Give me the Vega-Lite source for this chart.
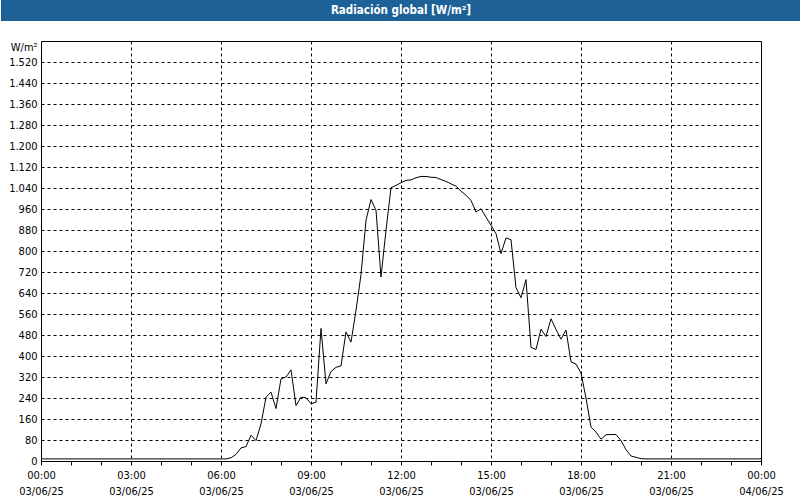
{
  "$schema": "https://vega.github.io/schema/vega-lite/v6.json",
  "background": "#ffffff",
  "padding": 0,
  "spacing": 19,
  "config": {
    "font": "DejaVu Sans Condensed",
    "view": {"stroke": "#000000"}
  },
  "datasets": {
    "rad": [
      {"min": 0, "wm2": 8}, {"min": 10, "wm2": 8}, {"min": 20, "wm2": 8}, {"min": 30, "wm2": 8}, {"min": 40, "wm2": 8}, {"min": 50, "wm2": 8},
      {"min": 60, "wm2": 8}, {"min": 70, "wm2": 8}, {"min": 80, "wm2": 8}, {"min": 90, "wm2": 8}, {"min": 100, "wm2": 8}, {"min": 110, "wm2": 8},
      {"min": 120, "wm2": 8}, {"min": 130, "wm2": 8}, {"min": 140, "wm2": 8}, {"min": 150, "wm2": 8}, {"min": 160, "wm2": 8}, {"min": 170, "wm2": 8},
      {"min": 180, "wm2": 8}, {"min": 190, "wm2": 8}, {"min": 200, "wm2": 8}, {"min": 210, "wm2": 8}, {"min": 220, "wm2": 8}, {"min": 230, "wm2": 8},
      {"min": 240, "wm2": 8}, {"min": 250, "wm2": 8}, {"min": 260, "wm2": 8}, {"min": 270, "wm2": 8}, {"min": 280, "wm2": 8}, {"min": 290, "wm2": 8},
      {"min": 300, "wm2": 8}, {"min": 310, "wm2": 8}, {"min": 320, "wm2": 8}, {"min": 330, "wm2": 8}, {"min": 340, "wm2": 8}, {"min": 350, "wm2": 8},
      {"min": 360, "wm2": 8}, {"min": 370, "wm2": 8}, {"min": 380, "wm2": 12}, {"min": 390, "wm2": 25}, {"min": 400, "wm2": 50}, {"min": 410, "wm2": 55},
      {"min": 420, "wm2": 98}, {"min": 430, "wm2": 78}, {"min": 440, "wm2": 141}, {"min": 450, "wm2": 243}, {"min": 460, "wm2": 262}, {"min": 470, "wm2": 200},
      {"min": 480, "wm2": 313}, {"min": 490, "wm2": 320}, {"min": 500, "wm2": 347}, {"min": 510, "wm2": 211}, {"min": 520, "wm2": 243}, {"min": 530, "wm2": 241},
      {"min": 540, "wm2": 218}, {"min": 550, "wm2": 224}, {"min": 560, "wm2": 505}, {"min": 570, "wm2": 294}, {"min": 580, "wm2": 341}, {"min": 590, "wm2": 357},
      {"min": 600, "wm2": 362}, {"min": 610, "wm2": 492}, {"min": 620, "wm2": 453}, {"min": 630, "wm2": 574}, {"min": 640, "wm2": 710}, {"min": 650, "wm2": 917},
      {"min": 660, "wm2": 996}, {"min": 670, "wm2": 955}, {"min": 680, "wm2": 701}, {"min": 690, "wm2": 879}, {"min": 700, "wm2": 1041}, {"min": 710, "wm2": 1050},
      {"min": 720, "wm2": 1060}, {"min": 730, "wm2": 1069}, {"min": 740, "wm2": 1071}, {"min": 750, "wm2": 1079}, {"min": 760, "wm2": 1084}, {"min": 770, "wm2": 1084},
      {"min": 780, "wm2": 1081}, {"min": 790, "wm2": 1080}, {"min": 800, "wm2": 1072}, {"min": 810, "wm2": 1065}, {"min": 820, "wm2": 1056}, {"min": 830, "wm2": 1047},
      {"min": 840, "wm2": 1028}, {"min": 850, "wm2": 1012}, {"min": 860, "wm2": 993}, {"min": 870, "wm2": 948}, {"min": 880, "wm2": 961}, {"min": 890, "wm2": 929},
      {"min": 900, "wm2": 898}, {"min": 910, "wm2": 866}, {"min": 920, "wm2": 790}, {"min": 930, "wm2": 850}, {"min": 940, "wm2": 843}, {"min": 950, "wm2": 660},
      {"min": 960, "wm2": 622}, {"min": 970, "wm2": 691}, {"min": 980, "wm2": 433}, {"min": 990, "wm2": 425}, {"min": 1000, "wm2": 502}, {"min": 1010, "wm2": 474},
      {"min": 1020, "wm2": 542}, {"min": 1030, "wm2": 501}, {"min": 1040, "wm2": 464}, {"min": 1050, "wm2": 499}, {"min": 1060, "wm2": 378}, {"min": 1070, "wm2": 369},
      {"min": 1080, "wm2": 335}, {"min": 1090, "wm2": 240}, {"min": 1100, "wm2": 129}, {"min": 1110, "wm2": 110}, {"min": 1120, "wm2": 83}, {"min": 1130, "wm2": 100},
      {"min": 1140, "wm2": 101}, {"min": 1150, "wm2": 101}, {"min": 1160, "wm2": 78}, {"min": 1170, "wm2": 43}, {"min": 1180, "wm2": 19}, {"min": 1190, "wm2": 14},
      {"min": 1200, "wm2": 9}, {"min": 1210, "wm2": 8}, {"min": 1220, "wm2": 8}, {"min": 1230, "wm2": 8}, {"min": 1240, "wm2": 8}, {"min": 1250, "wm2": 8},
      {"min": 1260, "wm2": 8}, {"min": 1270, "wm2": 8}, {"min": 1280, "wm2": 8}, {"min": 1290, "wm2": 8}, {"min": 1300, "wm2": 8}, {"min": 1310, "wm2": 8},
      {"min": 1320, "wm2": 8}, {"min": 1330, "wm2": 8}, {"min": 1340, "wm2": 8}, {"min": 1350, "wm2": 8}, {"min": 1360, "wm2": 8}, {"min": 1370, "wm2": 8},
      {"min": 1380, "wm2": 8}, {"min": 1390, "wm2": 8}, {"min": 1400, "wm2": 8}, {"min": 1410, "wm2": 8}, {"min": 1420, "wm2": 8}, {"min": 1430, "wm2": 8},
      {"min": 1440, "wm2": 8}
    ],
    "title": [{"text": "Radiación global [W/m²]"}]
  },
  "vconcat": [
    {
      "width": 760,
      "height": 21,
      "data": {"name": "title"},
      "view": {"fill": "#1e6196", "stroke": "transparent", "strokeWidth": 0},
      "mark": {"type": "text", "color": "#ffffff", "font": "DejaVu Sans Condensed", "fontWeight": "bold", "fontSize": 11.5, "align": "center", "baseline": "middle", "dx": -20},
      "encoding": {
        "text": {"field": "text", "type": "nominal"},
        "y": {
          "datum": 0.5,
          "type": "quantitative",
          "scale": {"domain": [0, 1], "nice": false},
          "axis": {"title": null, "labels": false, "ticks": false, "grid": false, "domain": true, "domainColor": "#1e6196", "domainWidth": 80, "domainCap": "butt", "translate": 0, "minExtent": 40, "maxExtent": 40}
        }
      }
    },
    {
      "width": 720,
      "height": 420,
      "data": {"name": "rad"},
      "view": {"stroke": "#000000", "strokeWidth": 1, "fill": "#ffffff"},
      "mark": {"type": "line", "color": "#000000", "strokeWidth": 1},
      "encoding": {
        "x": {
          "field": "min",
          "type": "quantitative",
          "scale": {"domain": [0, 1440], "nice": false, "zero": false},
          "axis": {
            "title": null,
            "values": [0, 60, 120, 180, 240, 300, 360, 420, 480, 540, 600, 660, 720, 780, 840, 900, 960, 1020, 1080, 1140, 1200, 1260, 1320, 1380, 1440],
            "domain": false,
            "ticks": true,
            "tickSize": 4,
            "tickColor": "#000000",
            "tickWidth": 1,
            "labelExpr": "datum.value % 180 === 0 ? [(datum.value === 1440 ? '00' : (datum.value < 600 ? '0' : '') + (datum.value / 60)) + ':00', datum.value === 1440 ? '04/06/25' : '03/06/25'] : ''",
            "labelFontSize": 11,
            "labelColor": "#000000",
            "labelPadding": 4,
            "labelLineHeight": 16,
            "labelOverlap": false,
            "labelFlush": false,
            "grid": true,
            "gridColor": "#000000",
            "gridDash": [3, 3],
            "gridOpacity": {"condition": {"test": "datum.value % 180 === 0 && datum.value > 0 && datum.value < 1440", "value": 1}, "value": 0}
          }
        },
        "y": {
          "field": "wm2",
          "type": "quantitative",
          "scale": {"domain": [0, 1600], "nice": false},
          "axis": {
            "title": "W/m²",
            "titleAngle": 0,
            "titleAlign": "right",
            "titleBaseline": "middle",
            "titleX": -4,
            "titleY": 6,
            "titleFontWeight": "normal",
            "titleFontSize": 11,
            "titleColor": "#000000",
            "values": [0, 80, 160, 240, 320, 400, 480, 560, 640, 720, 800, 880, 960, 1040, 1120, 1200, 1280, 1360, 1440, 1520],
            "domain": false,
            "ticks": false,
            "tickSize": 0,
            "labelPadding": 4,
            "labelExpr": "replace(format(datum.value, ','), ',', '.')",
            "labelFontSize": 11,
            "labelColor": "#000000",
            "grid": true,
            "gridColor": "#000000",
            "gridDash": [3, 3],
            "minExtent": 40,
            "maxExtent": 40
          }
        }
      }
    }
  ]
}
